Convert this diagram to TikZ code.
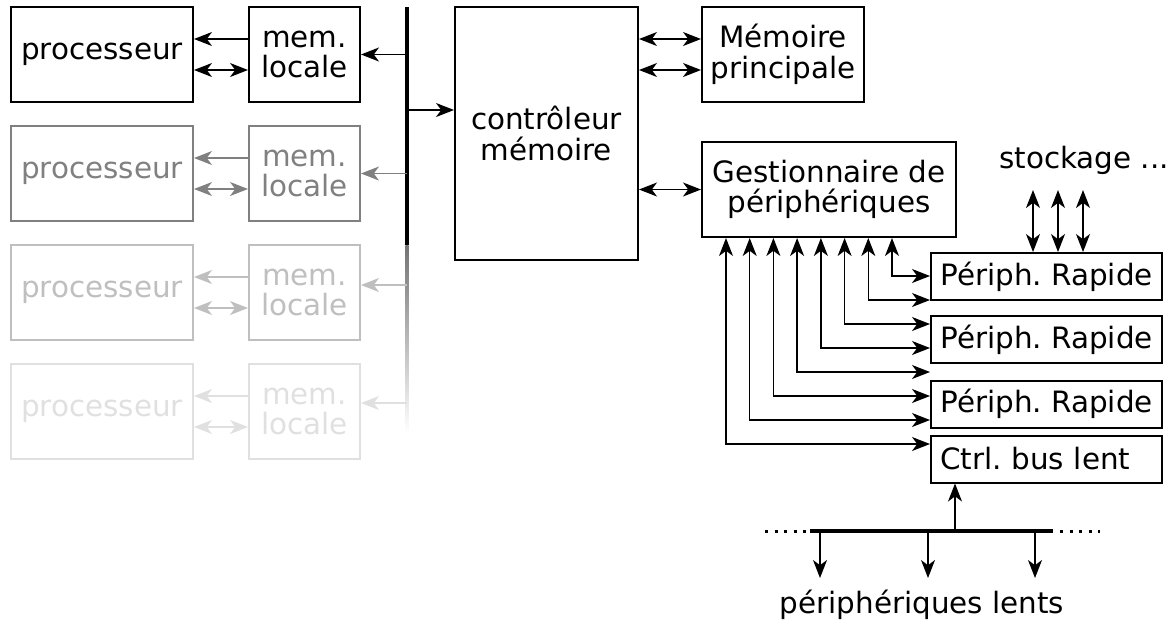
\documentclass[tikz,border=0pt]{standalone}
\usepackage{fontspec}
\setmainfont{DejaVu Sans}
\usetikzlibrary{arrows.meta,positioning,shapes}

\begin{document}
\frenchspacing
\begin{tikzpicture}[x=0.5pt,y=-0.5pt,
  font=\fontsize{14.7}{15.3}\selectfont,
  >={Stealth[length=9pt,width=7pt,inset=2.6pt]},
  every path/.style={line width=0.65pt},
  box/.style={draw,line width=1pt,inner sep=0pt,align=center},
  cpu/.style={box,minimum width=91pt,minimum height=47.5pt},
  loc/.style={box,minimum width=55.5pt,minimum height=47.5pt},
  rap/.style={box,minimum width=115.5pt,minimum height=23.5pt},
  bus/.style={line width=1.6pt},
  dots/.style={line width=1.5pt,dash pattern=on 1.5pt off 3.3pt}]
\useasboundingbox (0,0) rectangle (1172,623);

\coordinate (bt) at (407,7);
\coordinate (bm) at (407,245);
\shade[top color=black!55,bottom color=white] (405.4,245) rectangle (408.6,432);
\draw[bus] (bt) -- (bm);

\node[cpu] (p1) at (102,54.5) {processeur};
\node[loc] (m1) at (304.5,54.5) {mem.\\locale};
\draw[->] ([yshift=7.75pt]m1.west) -- ([yshift=7.75pt]p1.east);
\draw[<->] ([yshift=-7.75pt]p1.east) -- ([yshift=-7.75pt]m1.west);
\draw[->] (bt |- m1.east) -- (m1.east);

\node[cpu,black!50] (p2) at (102,173.5) {processeur};
\node[loc,black!50] (m2) at (304.5,173.5) {mem.\\locale};
\draw[->,black!50] ([yshift=7.75pt]m2.west) -- ([yshift=7.75pt]p2.east);
\draw[<->,black!50] ([yshift=-7.75pt]p2.east) -- ([yshift=-7.75pt]m2.west);
\draw[->,black!50] (bt |- m2.east) -- (m2.east);

\node[cpu,black!25] (p3) at (102,292.5) {processeur};
\node[loc,black!25] (m3) at (304.5,292.5) {mem.\\locale};
\draw[->,black!25] ([yshift=7.75pt]m3.west) -- ([yshift=7.75pt]p3.east);
\draw[<->,black!25] ([yshift=-7.75pt]p3.east) -- ([yshift=-7.75pt]m3.west);
\draw[->,black!25] (bt |- 0,285) -- (m3.east |- 0,285);

\node[cpu,black!12] (p4) at (102,411.5) {processeur};
\node[loc,black!12] (m4) at (304.5,411.5) {mem.\\locale};
\draw[->,black!12] ([yshift=7.75pt]m4.west) -- ([yshift=7.75pt]p4.east);
\draw[<->,black!12] ([yshift=-7.75pt]p4.east) -- ([yshift=-7.75pt]m4.west);
\draw[->,black!12] (bt |- 0,403) -- (m4.east |- 0,403);

\node[box,minimum width=91.5pt,minimum height=126.5pt] (mc) at (546.5,133.5) {contrôleur\\mémoire};
\draw[->] (bt |- 0,110) -- (mc.west |- 0,110);

\node[box,minimum width=81pt,minimum height=47.5pt] (mp) at (783,54.5) {Mémoire\\principale};
\draw[<->] (mc.east |- 0,39) -- (mp.west |- 0,39);
\draw[<->] (mc.east |- 0,70) -- (mp.west |- 0,70);

\node[box,minimum width=127pt,minimum height=47.5pt] (gp) at (829,189.5) {Gestionnaire de\\périphériques};
\draw[<->] (mc.east |- gp.west) -- (gp.west);

\node[rap] (r1) at (1046.5,276.5) {Périph. Rapide};
\node[rap] (r2) at (1046.5,339.5) {Périph. Rapide};
\node[rap] (r3) at (1046.5,404) {Périph. Rapide};
\node[rap,text width=106.5pt,inner xsep=4.5pt,align=left] (bl) at (1046.5,459) {Ctrl. bus lent};

\draw[<->] (gp.south -| 892,0) |- (r1.west |- 0,276);
\draw[<->] (gp.south -| 868.3,0) |- (r1.west |- 0,300);
\draw[<->] (gp.south -| 844.6,0) |- (r1.west |- 0,324);
\draw[<->] (gp.south -| 820.9,0) |- (r1.west |- 0,348);
\draw[<->] (gp.south -| 797.1,0) |- (r1.west |- 0,372);
\draw[<->] (gp.south -| 773.4,0) |- (r1.west |- 0,396);
\draw[<->] (gp.south -| 749.7,0) |- (r1.west |- 0,420);
\draw[<->] (gp.south -| 726,0) |- (r1.west |- 0,444);

\node (st) at (1084,160) {stockage ...};
\coordinate (s1) at (1033,190);
\coordinate (s2) at (1058,190);
\coordinate (s3) at (1083,190);
\draw[<->] (s1) -- (r1.north -| s1);
\draw[<->] (s2) -- (r1.north -| s2);
\draw[<->] (s3) -- (r1.north -| s3);

\coordinate (ba) at (810,531);
\coordinate (bz) at (1053,531);
\draw[bus] (ba) -- (bz);
\draw[dots] (765,531) -- (ba);
\draw[dots] (1060,531) -- (1100,531);
\draw[->] (ba -| 955,0) -- (bl.south -| 955,0);

\node (pl) at (922,605) {périphériques lents};
\coordinate (d1) at (820,578);
\coordinate (d2) at (928,578);
\coordinate (d3) at (1035,578);
\draw[->] (ba -| d1) -- (d1);
\draw[->] (ba -| d2) -- (d2);
\draw[->] (ba -| d3) -- (d3);
\end{tikzpicture}
\end{document}
